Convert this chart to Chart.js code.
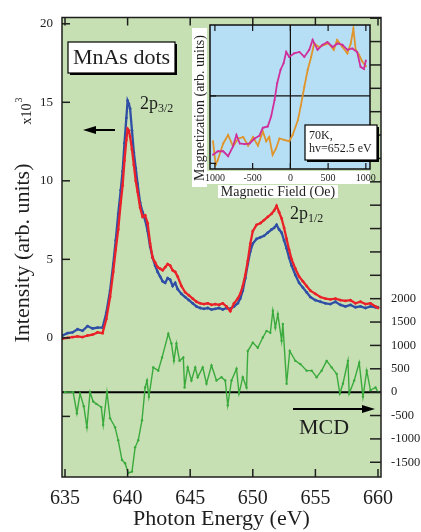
<!DOCTYPE html>
<html>
<head>
<meta charset="utf-8">
<script src="https://cdn.jsdelivr.net/npm/chart.js@4.4.0/dist/chart.umd.min.js"></script>
<style>
  body { margin: 0; background: #fff; }
  #wrap { position: relative; width: 421px; height: 532px; }
  #main { position: absolute; left: 0; top: 0; }
  #inset { position: absolute; left: 188px; top: 20px; }
</style>
</head>
<body>
<div id="wrap">
  <canvas id="main" width="421" height="532"></canvas>
  <canvas id="inset" width="193" height="182"></canvas>
</div>
<script>
var SERIF = "'Liberation Serif', 'DejaVu Serif', serif";
var INK = '#1e1e1e';

// XAS spectra (x10^3), both helicities on one energy grid
var energyXas = [634.8,635.2,635.6,636.0,636.4,636.8,637.2,637.6,638.0,638.3,638.6,638.85,639.05,639.25,639.45,639.6,639.75,639.9,640.0,640.1,640.2,640.35,640.5,640.65,640.8,641.0,641.2,641.4,641.6,641.8,642.0,642.2,642.4,642.6,642.8,643.0,643.2,643.4,643.6,643.8,644.0,644.3,644.6,644.9,645.2,645.5,645.8,646.1,646.4,646.7,647.0,647.3,647.6,647.9,648.2,648.5,648.8,649.0,649.2,649.4,649.6,649.8,650.0,650.3,650.6,650.9,651.2,651.5,651.7,651.9,652.1,652.3,652.5,652.7,652.9,653.1,653.4,653.7,654.0,654.3,654.6,655.0,655.4,655.8,656.2,656.6,657.0,657.4,657.8,658.2,658.6,659.0,659.4,659.8,660.0];
var blueXas = [0.15,0.3,0.35,0.55,0.45,0.75,0.6,0.65,0.65,1.6,3.0,4.7,6.2,7.9,9.4,10.6,12.4,14.0,15.1,14.9,14.6,13.2,11.8,10.8,9.8,8.6,8.0,7.5,6.8,5.8,5.1,4.6,4.2,3.9,3.6,3.5,3.8,3.7,3.3,3.5,3.1,2.8,2.6,2.4,2.2,2.0,1.9,1.85,1.9,1.8,1.85,1.9,1.8,1.9,1.85,2.0,2.2,2.5,3.0,3.8,4.7,5.5,6.0,6.3,6.4,6.5,6.7,6.9,7.0,7.2,6.9,6.7,6.2,5.7,5.1,4.6,4.0,3.5,3.2,2.9,2.6,2.4,2.3,2.2,2.15,2.3,2.1,2.0,2.1,1.95,2.0,1.9,2.0,1.95,1.95];
var redXas = [-0.05,0.0,0.05,0.1,0.05,0.15,0.2,0.35,0.3,1.2,2.6,4.2,5.6,6.9,8.6,9.7,11.3,12.6,13.3,13.2,12.8,12.0,11.0,10.0,9.3,8.3,7.7,7.8,7.3,6.0,5.1,4.8,4.5,4.4,4.3,4.5,4.7,4.6,4.3,4.2,3.9,3.3,2.9,2.7,2.5,2.3,2.2,2.15,2.2,2.1,2.15,2.1,2.2,2.0,1.7,2.2,2.5,2.8,3.3,4.0,4.9,6.0,6.8,7.2,7.3,7.5,7.7,7.9,8.1,8.4,8.0,7.6,7.0,6.3,5.6,5.0,4.4,3.9,3.6,3.3,3.0,2.8,2.6,2.5,2.45,2.5,2.4,2.35,2.4,2.2,2.3,2.15,2.2,2.0,1.9];

// MCD difference (right axis)
var energyMcd = [635.0,635.65,635.95,636.2,636.5,636.75,637.0,637.25,637.5,637.9,638.05,638.35,638.6,639.0,639.25,639.55,639.8,640.05,640.35,640.6,640.85,641.15,641.4,641.55,641.7,642.05,642.45,642.75,643.25,643.5,643.7,643.9,644.15,644.45,644.55,644.8,645.1,645.4,645.6,646.0,646.3,646.7,647.1,647.5,647.8,648.0,648.3,648.7,648.9,649.2,649.5,649.6,650.0,650.4,650.8,651.1,651.4,651.6,651.8,652.0,652.3,652.4,652.7,652.95,653.4,653.8,654.3,654.7,655.1,655.5,655.9,656.3,656.7,656.95,657.2,657.6,657.7,658.1,658.5,658.8,659.1,659.4,659.8,660.0];
var mcd = [0,0,-450,-30,-300,-750,0,-200,-250,-320,-700,0,-560,-750,-1030,-1450,-1520,-1730,-1700,-1180,-1030,-600,100,250,-100,530,460,740,1250,1040,670,1040,670,740,100,530,250,530,320,530,180,570,250,320,250,-280,250,500,-30,320,100,880,1060,950,1170,1310,1270,1740,1380,1670,1100,1460,180,880,670,600,460,460,320,460,670,530,390,-30,180,670,-30,250,630,-100,460,40,100,0];

var xTicks = [635, 640, 645, 650, 655, 660];
var leftTicks = [-5, 0, 5, 10, 15, 20];
var leftLabels = ['', '0', '5', '10', '15', '20'];
var rightTicks = [-1500,-1000,-500,0,500,1000,1500,2000,2500,3000,3500,4000,4500,5000,5500,6000,6500,7000,7500,8000];
var rightLabeled = [-1500,-1000,-500,0,500,1000,1500,2000];

// hysteresis loops in the inset
var fieldMagenta = [-1025,-960,-890,-825,-760,-715,-670,-605,-540,-475,-410,-365,-300,-255,-210,-175,-130,-90,-55,-15,50,120,185,250,295,360,425,490,560,625,690,755,820,885,930,975,1000];
var magMagenta = [-0.83,-0.78,-0.78,-0.85,-0.71,-0.55,-0.67,-0.68,-0.67,-0.6,-0.56,-0.45,-0.43,-0.29,-0.06,0.18,0.37,0.46,0.62,0.55,0.6,0.62,0.55,0.65,0.79,0.65,0.72,0.76,0.69,0.74,0.72,0.65,0.67,0.62,0.41,0.38,0.5];
var fieldOrange = [-1025,-990,-960,-890,-825,-760,-690,-625,-560,-495,-430,-365,-320,-280,-235,-190,-145,-80,-15,30,100,140,185,230,275,315,380,445,510,575,620,690,755,800,835,865,910,950,1000];
var magOrange = [-0.64,-0.97,-0.9,-0.67,-0.55,-0.71,-0.6,-0.58,-0.7,-0.58,-0.7,-0.5,-0.64,-0.58,-0.83,-0.74,-0.6,-0.62,-0.64,-0.55,-0.34,-0.13,0.13,0.37,0.55,0.74,0.69,0.72,0.74,0.65,0.79,0.69,0.6,0.74,0.95,0.65,0.58,0.49,0.42];
var insetTicks = [-1000, -500, 0, 500, 1000];
var insetLabels = ['1000', '-500', '0', '500', '1000'];

function pts(xs, ys) {
  return xs.map(function(x, i) { return { x: x, y: ys[i] }; });
}

function line(ctx, x1, y1, x2, y2, w) {
  ctx.lineWidth = w;
  ctx.beginPath();
  ctx.moveTo(x1, y1);
  ctx.lineTo(x2, y2);
  ctx.stroke();
}

function arrow(ctx, x1, y, x2) {
  var dir = x2 > x1 ? 1 : -1;
  ctx.strokeStyle = '#000';
  ctx.fillStyle = '#000';
  line(ctx, x1, y, x2 - dir * 10, y, 2);
  ctx.beginPath();
  ctx.moveTo(x2, y);
  ctx.lineTo(x2 - dir * 13, y - 4);
  ctx.lineTo(x2 - dir * 13, y + 4);
  ctx.closePath();
  ctx.fill();
}

function boxWithShadow(ctx, x, y, w, h) {
  ctx.fillStyle = '#000';
  ctx.fillRect(x + 2, y + 2, w, h);
  ctx.fillStyle = '#fff';
  ctx.fillRect(x, y, w, h);
  ctx.strokeStyle = '#000';
  ctx.lineWidth = 1.2;
  ctx.strokeRect(x, y, w, h);
}

var mainDecor = {
  id: 'mainDecor',
  beforeDraw: function(chart) {
    var c = chart.ctx, a = chart.chartArea;
    c.save();
    c.fillStyle = '#fff';
    c.fillRect(0, 0, chart.width, chart.height);
    c.fillStyle = '#c6e0b4';
    c.fillRect(a.left, a.top, a.right - a.left, a.bottom - a.top);
    c.restore();
  },
  beforeDatasetsDraw: function(chart) {
    var c = chart.ctx, a = chart.chartArea;
    var y0 = chart.scales.y1.getPixelForValue(0);
    c.save();
    c.strokeStyle = '#000';
    line(c, a.left, y0, a.right, y0, 2);
    c.restore();
  },
  afterDraw: function(chart) {
    var c = chart.ctx, a = chart.chartArea, s = chart.scales;
    c.save();
    c.strokeStyle = INK;
    c.lineWidth = 1.5;
    c.strokeRect(a.left, a.top, a.right - a.left, a.bottom - a.top);
    xTicks.forEach(function(v) {
      var px = s.x.getPixelForValue(v);
      line(c, px, a.bottom, px, a.bottom - 8, 1.5);
      line(c, px, a.top, px, a.top + 8, 1.5);
    });
    leftTicks.forEach(function(v) {
      var py = s.y.getPixelForValue(v);
      line(c, a.left, py, a.left + 8, py, 1.5);
    });
    rightTicks.forEach(function(v) {
      var py = s.y1.getPixelForValue(v);
      line(c, a.right, py, a.right - 11, py, 1.5);
    });

    // axis titles
    c.fillStyle = INK;
    c.textAlign = 'center';
    c.textBaseline = 'middle';
    c.save();
    c.translate(23, 253);
    c.rotate(-Math.PI / 2);
    c.font = '22px ' + SERIF;
    c.fillText('Intensity (arb. units)', 0, 0);
    c.restore();
    c.save();
    c.translate(27, 114);
    c.rotate(-Math.PI / 2);
    c.font = '14px ' + SERIF;
    c.fillText('x10', 0, 0);
    c.font = '10px ' + SERIF;
    c.fillText('3', 14, -8);
    c.restore();

    // sample label
    boxWithShadow(c, 68, 42, 107, 31);
    c.fillStyle = INK;
    c.font = '22px ' + SERIF;
    c.fillText('MnAs dots', 121.5, 58);

    // edge labels
    c.textAlign = 'left';
    c.font = '18px ' + SERIF;
    c.fillText('2p', 140, 104);
    c.fillText('2p', 290, 214);
    c.font = '12px ' + SERIF;
    c.fillText('3/2', 158, 109);
    c.fillText('1/2', 308, 219);

    c.textAlign = 'center';
    c.font = '22px ' + SERIF;
    c.fillText('MCD', 324, 428);

    arrow(c, 115, 130, 83);
    arrow(c, 293, 409, 375);
    c.restore();
  }
};

new Chart(document.getElementById('main'), {
  type: 'line',
  data: {
    datasets: [
      { label: 'XAS red', data: pts(energyXas, redXas), yAxisID: 'y', order: 1,
        borderColor: '#ea2128', backgroundColor: '#ea2128', borderWidth: 2.3,
        pointRadius: 1.4, pointBorderWidth: 0, tension: 0 },
      { label: 'XAS blue', data: pts(energyXas, blueXas), yAxisID: 'y', order: 2,
        borderColor: '#2f4fa6', backgroundColor: '#2f4fa6', borderWidth: 2.3,
        pointRadius: 1.4, pointBorderWidth: 0, tension: 0 },
      { label: 'MCD', data: pts(energyMcd, mcd), yAxisID: 'y1', order: 3,
        borderColor: '#3aaa3c', backgroundColor: '#3aaa3c', borderWidth: 1.4,
        pointRadius: 1.2, pointBorderWidth: 0, tension: 0 }
    ]
  },
  options: {
    responsive: false,
    animation: false,
    layout: { padding: { top: 15, left: 0, right: 0, bottom: 0 } },
    plugins: { legend: { display: false }, tooltip: { enabled: false } },
    scales: {
      x: {
        type: 'linear', min: 634.76, max: 660.24,
        afterBuildTicks: function(s) { s.ticks = xTicks.map(function(v) { return { value: v }; }); },
        afterFit: function(s) { s.height = 55; },
        grid: { display: false, drawTicks: false },
        border: { display: false },
        ticks: { autoSkip: false, maxRotation: 0, padding: 10, color: INK,
                 font: { family: SERIF, size: 20 },
                 callback: function(v) { return String(v); } },
        title: { display: true, text: 'Photon Energy (eV)', color: INK, padding: 0,
                 font: { family: SERIF, size: 22 } }
      },
      y: {
        position: 'left', min: -8.86, max: 20.4,
        afterBuildTicks: function(s) { s.ticks = leftTicks.map(function(v) { return { value: v }; }); },
        afterFit: function(s) { s.width = 62; },
        grid: { display: false, drawTicks: false },
        border: { display: false },
        ticks: { autoSkip: false, padding: 9, color: INK, font: { family: SERIF, size: 13 },
                 callback: function(v) { var i = leftTicks.indexOf(v); return i < 0 ? '' : leftLabels[i]; } }
      },
      y1: {
        position: 'right', min: -1815, max: 8015,
        afterBuildTicks: function(s) { s.ticks = rightTicks.map(function(v) { return { value: v }; }); },
        afterFit: function(s) { s.width = 40; },
        grid: { display: false, drawTicks: false },
        border: { display: false },
        ticks: { autoSkip: false, padding: 10, color: INK, font: { family: SERIF, size: 12.5 },
                 callback: function(v) { return rightLabeled.indexOf(v) >= 0 ? String(v) : ''; } }
      }
    }
  },
  plugins: [mainDecor]
});

var insetDecor = {
  id: 'insetDecor',
  beforeDraw: function(chart) {
    var c = chart.ctx, a = chart.chartArea;
    c.save();
    c.fillStyle = '#fff';
    c.fillRect(4, 8, 15, 159);
    c.fillRect(17, 151, 165, 13);
    c.fillRect(30, 165, 120, 13);
    c.fillStyle = '#b6dff5';
    c.fillRect(a.left, a.top, a.right - a.left, a.bottom - a.top);
    c.restore();
  },
  beforeDatasetsDraw: function(chart) {
    var c = chart.ctx, a = chart.chartArea, s = chart.scales;
    var x0 = s.x.getPixelForValue(0), y0 = s.y.getPixelForValue(0);
    c.save();
    c.strokeStyle = '#111';
    line(c, a.left, y0, a.right, y0, 1.2);
    line(c, x0, a.top, x0, a.bottom, 1.2);
    c.restore();
  },
  afterDraw: function(chart) {
    var c = chart.ctx, a = chart.chartArea, s = chart.scales;
    c.save();
    c.strokeStyle = '#111';
    c.lineWidth = 1.5;
    c.strokeRect(a.left, a.top, a.right - a.left, a.bottom - a.top);
    insetTicks.forEach(function(v) {
      var px = s.x.getPixelForValue(v);
      line(c, px, a.bottom, px, a.bottom - 6, 1.2);
      line(c, px, a.top, px, a.top + 6, 1.2);
    });
    [-0.95, 0].forEach(function(v) {
      var py = s.y.getPixelForValue(v);
      line(c, a.left, py, a.left + 6, py, 1.2);
    });

    c.fillStyle = INK;
    c.textAlign = 'center';
    c.textBaseline = 'middle';
    c.font = '14px ' + SERIF;
    c.fillText('Magnetic Field (Oe)', 90, 172);
    c.save();
    c.translate(12, 88);
    c.rotate(-Math.PI / 2);
    c.fillText('Magnetization (arb. units)', 0, 0);
    c.restore();

    boxWithShadow(c, 117, 105, 72, 35);
    c.fillStyle = INK;
    c.textAlign = 'left';
    c.font = '12px ' + SERIF;
    c.fillText('70K,', 121, 116);
    c.fillText('hv=652.5 eV', 121, 129);
    c.restore();
  }
};

new Chart(document.getElementById('inset'), {
  type: 'line',
  data: {
    datasets: [
      { label: 'magenta', data: pts(fieldMagenta, magMagenta), order: 1,
        borderColor: '#cf2f9b', backgroundColor: '#cf2f9b', borderWidth: 1.8,
        pointRadius: 1, pointBorderWidth: 0, tension: 0 },
      { label: 'orange', data: pts(fieldOrange, magOrange), order: 2,
        borderColor: '#df952c', backgroundColor: '#df952c', borderWidth: 1.8,
        pointRadius: 1, pointBorderWidth: 0, tension: 0 }
    ]
  },
  options: {
    responsive: false,
    animation: false,
    layout: { padding: { top: 5, right: 11, left: 0, bottom: 0 } },
    plugins: { legend: { display: false }, tooltip: { enabled: false } },
    scales: {
      x: {
        type: 'linear', min: -1065, max: 1055,
        afterBuildTicks: function(s) { s.ticks = insetTicks.map(function(v) { return { value: v }; }); },
        afterFit: function(s) { s.height = 33; },
        grid: { display: false, drawTicks: false },
        border: { display: false },
        ticks: { autoSkip: false, maxRotation: 0, padding: 3, color: INK,
                 font: { family: SERIF, size: 10 },
                 callback: function(v) { var i = insetTicks.indexOf(v); return i < 0 ? '' : insetLabels[i]; } }
      },
      y: {
        min: -1.03, max: 1.0,
        afterFit: function(s) { s.width = 22; },
        grid: { display: false, drawTicks: false },
        border: { display: false },
        ticks: { display: false }
      }
    }
  },
  plugins: [insetDecor]
});
</script>
</body>
</html>
